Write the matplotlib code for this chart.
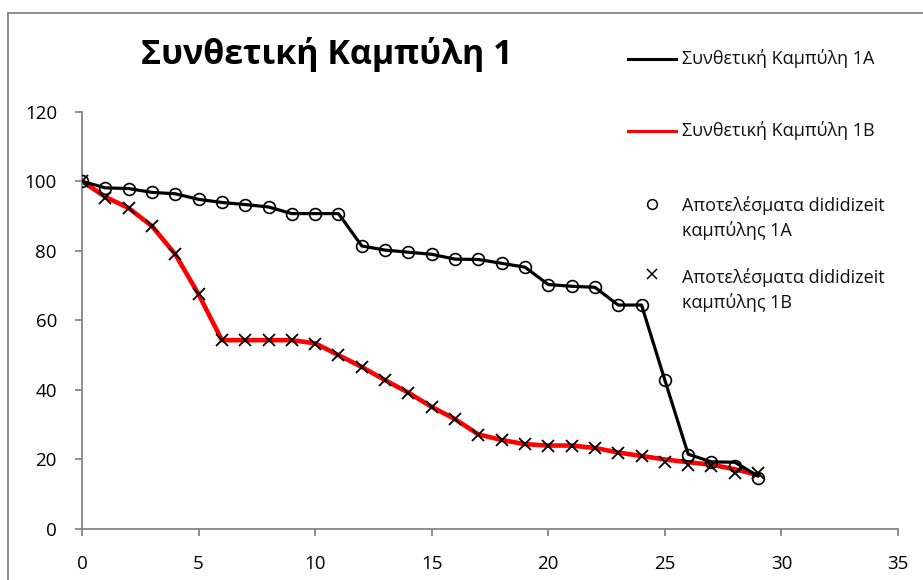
import matplotlib
matplotlib.use('Agg')
from matplotlib import pyplot as plt
from matplotlib.lines import Line2D

plt.rcParams['font.family'] = ['Open Sans', 'DejaVu Sans']

x_pts = list(range(30))

# synthetic curves (lines)
curve_1a = [100, 98.1, 97.9, 96.8, 96.4, 94.8, 93.9, 93.3, 92.6, 90.7, 90.7, 90.7,
            81.4, 80.2, 79.6, 79.0, 77.6, 77.5, 76.4, 75.3, 70.3, 69.8, 69.5,
            64.4, 64.4, 42.8, 21.5, 19.3, 19.2, 15.2]
curve_1b = [100, 95.5, 92.3, 87.1, 79.0, 67.5, 54.3, 54.3, 54.3, 54.3, 53.4, 50.0,
            46.6, 42.8, 39.2, 35.1, 31.6, 27.2, 25.6, 24.4, 24.0, 24.0, 23.3,
            22.0, 21.0, 20.0, 19.2, 18.5, 17.2, 15.5]

# digitized results (markers)
digit_1a = [100, 98.1, 97.9, 96.8, 96.4, 94.8, 93.9, 93.3, 92.6, 90.7, 90.7, 90.7,
            81.4, 80.2, 79.6, 79.0, 77.6, 77.5, 76.4, 75.3, 70.3, 69.8, 69.5,
            64.4, 64.4, 42.8, 21.3, 19.3, 18.2, 14.7]
digit_1b = [100, 95.2, 92.2, 87.1, 79.0, 67.5, 54.3, 54.3, 54.3, 54.3, 53.2, 50.0,
            46.6, 42.8, 39.2, 35.1, 31.6, 27.0, 25.6, 24.4, 23.9, 23.9, 23.3,
            21.8, 21.0, 19.3, 18.4, 18.1, 16.1, 16.2]

x_ticks = [0, 5, 10, 15, 20, 25, 30, 35]
y_ticks = [0, 20, 40, 60, 80, 100, 120]

title = 'Συνθετική Καμπύλη 1'
labels = ['Συνθετική Καμπύλη 1A', 'Συνθετική Καμπύλη 1B',
          'Αποτελέσματα dididizeit\nκαμπύλης 1A', 'Αποτελέσματα dididizeit\nκαμπύλης 1B']

W, H = 923, 580
fig = plt.figure(figsize=(W / 100, H / 100), dpi=100)
ax = fig.add_axes([82 / W, 1 - 529 / H, 816 / W, 417.3 / H])

grey = '#868686'
ax.plot(x_pts, curve_1b, color='#ff0000', lw=3.3, zorder=2, solid_capstyle='round')
ax.plot(x_pts, curve_1a, color='black', lw=2.3, zorder=3, solid_capstyle='round')
ax.plot(x_pts, digit_1a, ls='none', marker='o', ms=8.5, mfc='none', mec='black', mew=1.2, zorder=4)
ax.plot(x_pts, digit_1b, ls='none', marker='x', ms=8.5, mec='black', mew=1.3, zorder=4)

ax.set_xlim(0, 35)
ax.set_ylim(0, 120)
ax.set_xticks(x_ticks)
ax.set_yticks(y_ticks)
for s in ['top', 'right']:
    ax.spines[s].set_visible(False)
for s in ['left', 'bottom']:
    ax.spines[s].set_color(grey)
    ax.spines[s].set_linewidth(1.3)
ax.tick_params(axis='y', length=5, width=1.3, color=grey, pad=13, labelsize=13.5)
ax.tick_params(axis='x', length=5, width=1.3, color=grey, pad=14, labelsize=13.5)
ax.patch.set_alpha(0)

fig.text(327 / W, 1 - 55 / H, title, fontsize=24.5, fontweight='bold', ha='center', va='center')

# legend
def fx(px):
    return px / W

def fy(py):
    return 1 - py / H

fig.add_artist(Line2D([fx(628), fx(676)], [fy(59), fy(59)], color='black', lw=2.2))
fig.add_artist(Line2D([fx(628), fx(676)], [fy(131), fy(131)], color='#ff0000', lw=2.2))
fig.add_artist(Line2D([fx(652)], [fy(204)], ls='none', marker='o', ms=7, mfc='none', mec='black', mew=1.1))
fig.add_artist(Line2D([fx(652)], [fy(274)], ls='none', marker='x', ms=7.5, mec='black', mew=1.1))
leg_y = [59, 131, 206, 278]
for lab, yy in zip(labels, leg_y):
    fig.text(fx(682), fy(yy - 10), lab, fontsize=13, ha='left', va='top', linespacing=1.4, color='#111111')

# chart border
fig.add_artist(Line2D([fx(8), fx(8)], [0, fy(13)], color=grey, lw=1.3))
fig.add_artist(Line2D([fx(8), 1], [fy(13), fy(13)], color=grey, lw=1.3))

fig.savefig('out.png', dpi=100)
